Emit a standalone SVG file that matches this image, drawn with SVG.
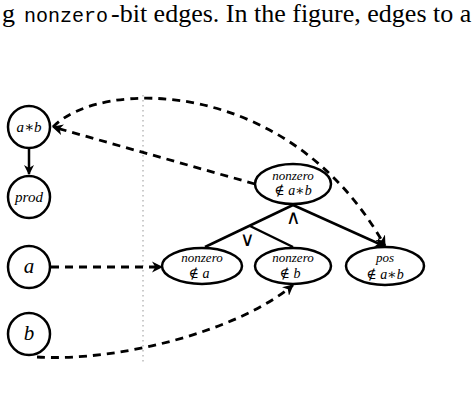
<svg xmlns="http://www.w3.org/2000/svg" width="474" height="403" viewBox="0 0 474 403">
<style>
.nd{fill:#fff;stroke:#000;stroke-width:2.5}
.lb{font-family:'Liberation Serif','Times New Roman',Times,serif;font-style:italic;text-anchor:middle;fill:#000}
.op{font-family:'DejaVu Serif',serif;font-style:normal}
.solid{fill:none;stroke:#000;stroke-width:2.5}
.dash{fill:none;stroke:#000;stroke-width:2.8;stroke-dasharray:8 6}
.lg{font-family:'DejaVu Sans',sans-serif;font-size:20px;text-anchor:middle;fill:#000}
</style>
<defs>
<marker id="ah" viewBox="0 0 10 10" refX="9" refY="5" markerWidth="4" markerHeight="4" orient="auto" markerUnits="strokeWidth">
<path d="M0,0 L10,5 L0,10 L3,5 Z" fill="#000"/>
</marker>
</defs>
<rect width="474" height="403" fill="#fff"/>
<text x="2" y="22" font-family="'Liberation Serif','Times New Roman',serif" font-size="26">g</text>
<text x="24" y="22" font-family="'Liberation Mono','Courier New',monospace" font-size="20">nonzero</text>
<text x="111" y="22" font-family="'Liberation Serif','Times New Roman',serif" font-size="26">-bit edges. In the figure, edges to a</text>
<line x1="143" y1="95" x2="143" y2="365" stroke="#bbb" stroke-width="1.5" stroke-dasharray="1.5 3.5"/>
<g id="connectors">
<line class="solid" x1="29" y1="149" x2="29" y2="174" marker-end="url(#ah)"/>
<path class="solid" d="M293,205 L205,247"/>
<path class="solid" d="M250,226 L293,247"/>
<path class="solid" d="M293,205 L384,246" marker-end="url(#ah)"/>
<path class="dash" d="M255,184 L53,127" marker-end="url(#ah)"/>
<path class="dash" d="M53,127 C100,78 290,76 385,246" marker-end="url(#ah)"/>
<path class="dash" d="M51,267 L162,267" marker-end="url(#ah)"/>
<path class="dash" d="M37,357 C120,362 240,330 293,285" marker-end="url(#ah)"/>
<text class="lg" x="293" y="224" style="font-weight:200">∧</text>
<text class="lg" x="247" y="246" style="font-weight:200">∨</text>
</g>
<g id="n_ab"><circle class="nd" cx="29" cy="127" r="21"/><text class="lb" x="29" y="132" font-size="15">a<tspan class="op">∗</tspan>b</text></g>
<g id="n_prod"><circle class="nd" cx="29" cy="197" r="21"/><text class="lb" x="29" y="202" font-size="15">prod</text></g>
<g id="n_a"><circle class="nd" cx="29" cy="267" r="21"/><text class="lb" x="29" y="273" font-size="21">a</text></g>
<g id="n_b"><circle class="nd" cx="29" cy="334" r="21"/><text class="lb" x="29" y="340" font-size="21">b</text></g>
<g id="n_nzab"><ellipse class="nd" cx="293" cy="184" rx="38" ry="20"/><text class="lb" x="293" y="180" font-size="13">nonzero</text><text class="lb" x="293" y="195" font-size="14"><tspan class="op">∉</tspan> a<tspan class="op">∗</tspan>b</text></g>
<g id="n_nza"><ellipse class="nd" cx="202" cy="266" rx="40" ry="18"/><text class="lb" x="202" y="262" font-size="13">nonzero</text><text class="lb" x="199" y="278" font-size="14"><tspan class="op">∉</tspan> a</text></g>
<g id="n_nzb"><ellipse class="nd" cx="293" cy="266" rx="38" ry="18"/><text class="lb" x="293" y="262" font-size="13">nonzero</text><text class="lb" x="290" y="278" font-size="14"><tspan class="op">∉</tspan> b</text></g>
<g id="n_pos"><ellipse class="nd" cx="385" cy="266" rx="39" ry="19"/><text class="lb" x="385" y="262" font-size="13">pos</text><text class="lb" x="385" y="279" font-size="14"><tspan class="op">∉</tspan> a<tspan class="op">∗</tspan>b</text></g>
</svg>
